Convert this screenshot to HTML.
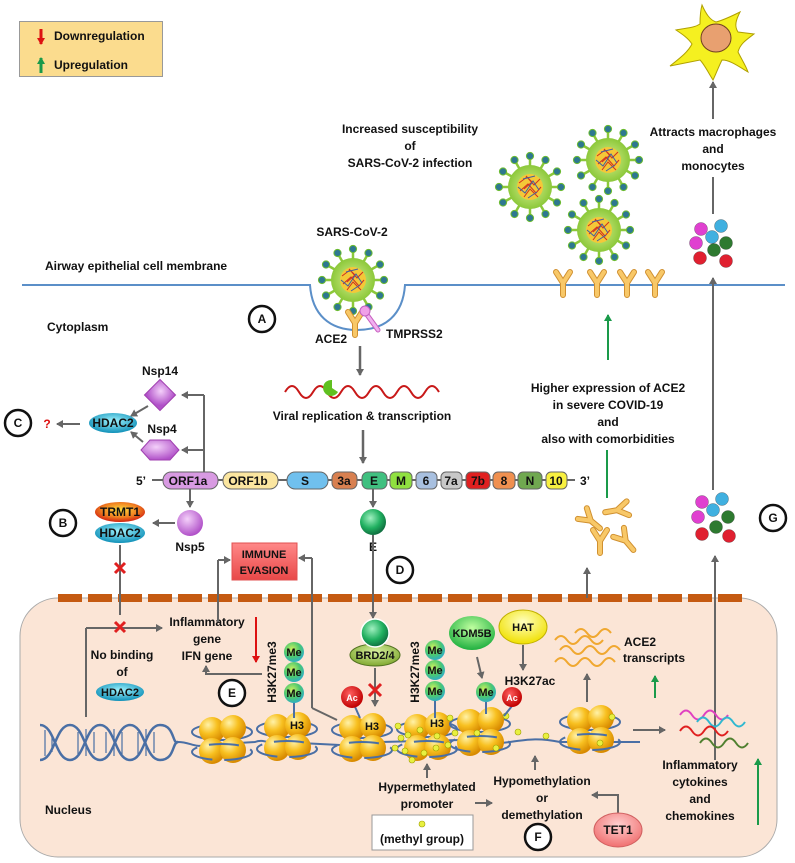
<!DOCTYPE html>
<html><head><meta charset="utf-8">
<style>
html,body{margin:0;padding:0;background:#fff;}
svg{display:block;}
text{font-family:"Liberation Sans",sans-serif;font-weight:bold;font-size:12px;fill:#111;}
.c{text-anchor:middle;}
</style></head><body>
<svg width="795" height="863" viewBox="0 0 795 863" xmlns="http://www.w3.org/2000/svg">
<defs>
<marker id="ag" markerWidth="8" markerHeight="8" refX="6" refY="4" orient="auto" markerUnits="userSpaceOnUse"><path d="M0,0 L7,4 L0,8 z" fill="#666"/></marker>
<marker id="agr" markerWidth="8" markerHeight="8" refX="6" refY="4" orient="auto" markerUnits="userSpaceOnUse"><path d="M0,0 L7,4 L0,8 z" fill="#1a9a4a"/></marker>
<marker id="ar" markerWidth="8" markerHeight="8" refX="6" refY="4" orient="auto" markerUnits="userSpaceOnUse"><path d="M0,0 L7,4 L0,8 z" fill="#d11"/></marker>
<radialGradient id="gold" cx="35%" cy="30%" r="70%"><stop offset="0" stop-color="#fff2a8"/><stop offset="0.5" stop-color="#f8c020"/><stop offset="1" stop-color="#d88a00"/></radialGradient>
<radialGradient id="me" cx="40%" cy="35%" r="65%"><stop offset="0" stop-color="#c8f060"/><stop offset="0.6" stop-color="#4cc870"/><stop offset="1" stop-color="#30b0c0"/></radialGradient>
<radialGradient id="ac" cx="40%" cy="35%" r="65%"><stop offset="0" stop-color="#ff6060"/><stop offset="1" stop-color="#c00000"/></radialGradient>
<radialGradient id="grn" cx="40%" cy="35%" r="65%"><stop offset="0" stop-color="#a0f0c0"/><stop offset="0.6" stop-color="#20b060"/><stop offset="1" stop-color="#107040"/></radialGradient>
<radialGradient id="pur" cx="40%" cy="35%" r="65%"><stop offset="0" stop-color="#f4d0fa"/><stop offset="1" stop-color="#b050c8"/></radialGradient>
<radialGradient id="hd" cx="50%" cy="40%" r="60%"><stop offset="0" stop-color="#a0f4ff"/><stop offset="1" stop-color="#1090b8"/></radialGradient>
<radialGradient id="tr" cx="50%" cy="40%" r="60%"><stop offset="0" stop-color="#ffe040"/><stop offset="0.6" stop-color="#f08020"/><stop offset="1" stop-color="#d02010"/></radialGradient>
<radialGradient id="kd" cx="50%" cy="35%" r="65%"><stop offset="0" stop-color="#c0ffa0"/><stop offset="1" stop-color="#20b040"/></radialGradient>
<radialGradient id="hat" cx="50%" cy="35%" r="65%"><stop offset="0" stop-color="#ffffc0"/><stop offset="1" stop-color="#f0e000"/></radialGradient>
<radialGradient id="brd" cx="50%" cy="35%" r="65%"><stop offset="0" stop-color="#d8f0a0"/><stop offset="1" stop-color="#80a830"/></radialGradient>
<radialGradient id="tet" cx="50%" cy="35%" r="65%"><stop offset="0" stop-color="#ffd0d0"/><stop offset="1" stop-color="#f07070"/></radialGradient>
<radialGradient id="vb" cx="50%" cy="50%" r="50%"><stop offset="0" stop-color="#d8f090"/><stop offset="1" stop-color="#8cc83a"/></radialGradient>
<linearGradient id="imm" x1="0" y1="0" x2="0" y2="1"><stop offset="0" stop-color="#f88"/><stop offset="1" stop-color="#e84848"/></linearGradient>
<g id="virus">
  <g stroke="#8cc83a" stroke-width="2.5">
    <line x1="0" y1="0" x2="0" y2="-30"/><line x1="0" y1="0" x2="15" y2="-26"/><line x1="0" y1="0" x2="26" y2="-15"/><line x1="0" y1="0" x2="30" y2="0"/><line x1="0" y1="0" x2="26" y2="15"/><line x1="0" y1="0" x2="15" y2="26"/><line x1="0" y1="0" x2="0" y2="30"/><line x1="0" y1="0" x2="-15" y2="26"/><line x1="0" y1="0" x2="-26" y2="15"/><line x1="0" y1="0" x2="-30" y2="0"/><line x1="0" y1="0" x2="-26" y2="-15"/><line x1="0" y1="0" x2="-15" y2="-26"/>
  </g>
  <g fill="#2e7890" stroke="#6cbc30" stroke-width="1">
    <circle cx="0" cy="-31" r="3.6"/><circle cx="15.5" cy="-27" r="3.6"/><circle cx="27" cy="-15.5" r="3.6"/><circle cx="31" cy="0" r="3.6"/><circle cx="27" cy="15.5" r="3.6"/><circle cx="15.5" cy="27" r="3.6"/><circle cx="0" cy="31" r="3.6"/><circle cx="-15.5" cy="27" r="3.6"/><circle cx="-27" cy="15.5" r="3.6"/><circle cx="-31" cy="0" r="3.6"/><circle cx="-27" cy="-15.5" r="3.6"/><circle cx="-15.5" cy="-27" r="3.6"/>
  </g>
  <circle r="22" fill="url(#vb)"/>
  <circle r="13" fill="#f4c838"/>
  <path d="M-11,-4 L-3,-10 L4,-2 L10,-8 M-10,4 L-2,-3 L6,6 L11,0 M-6,10 L0,2 L8,10 M-4,-11 L2,-5 L-6,2" stroke="#d03020" stroke-width="1" fill="none"/>
  <path d="M-12,0 L-5,6 L3,-6 L9,3 M-7,-8 L5,-11 M-2,11 L7,5" stroke="#4060a0" stroke-width="1" fill="none"/>
</g>
<g id="yr">
  <path d="M0,13 L0,1 M0,1 L-7,-10 M0,1 L7,-10" stroke="#d09030" stroke-width="6" stroke-linecap="round" fill="none"/>
  <path d="M0,13 L0,1 M0,1 L-7,-10 M0,1 L7,-10" stroke="#f8c868" stroke-width="4" stroke-linecap="round" fill="none"/>
</g>
<g id="nuc">
  <ellipse cx="0" cy="-8" rx="30" ry="8" fill="none" stroke="#4a6fa5" stroke-width="2"/>
  <circle cx="-10" cy="-10" r="13" fill="url(#gold)"/><circle cx="11" cy="-12" r="13" fill="url(#gold)"/>
  <circle cx="-10" cy="11" r="13" fill="url(#gold)"/><circle cx="11" cy="10" r="13" fill="url(#gold)"/>
  <ellipse cx="0" cy="12" rx="30" ry="8" fill="none" stroke="#4a6fa5" stroke-width="2" stroke-dasharray="30 12"/>
</g>
</defs>

<!-- legend -->
<rect x="19.5" y="21.5" width="143" height="55" fill="#fbdc8e" stroke="#999"/>
<line x1="41" y1="29" x2="41" y2="44" stroke="#d11" stroke-width="3" marker-end="url(#ar)"/>
<line x1="41" y1="73" x2="41" y2="58" stroke="#1a9a4a" stroke-width="3" marker-end="url(#agr)"/>
<text x="54" y="40">Downregulation</text>
<text x="54" y="69">Upregulation</text>

<!-- top texts -->
<text class="c" x="410" y="133">Increased susceptibility</text>
<text class="c" x="410" y="150">of</text>
<text class="c" x="410" y="167">SARS-CoV-2 infection</text>
<text class="c" x="713" y="136">Attracts macrophages</text>
<text class="c" x="713" y="153">and</text>
<text class="c" x="713" y="170">monocytes</text>
<text class="c" x="352" y="236">SARS-CoV-2</text>
<text x="45" y="270">Airway epithelial cell membrane</text>
<text x="47" y="331">Cytoplasm</text>

<!-- macrophage -->
<path d="M702,5 C706,14 710,20 716,22 C724,20 732,16 740,12 C736,20 734,26 738,32 L754,34 C746,40 740,44 738,52 C742,60 746,66 748,72 C738,66 730,60 722,60 C718,68 716,74 713,80 C708,72 704,64 700,60 C690,62 680,64 670,66 C680,58 688,52 692,44 C688,38 682,34 676,30 C686,28 694,28 700,24 C700,18 700,12 702,5 Z" fill="#f5f020" stroke="#b0a000" stroke-width="1"/>
<ellipse cx="716" cy="38" rx="15" ry="14" fill="#e8a070" stroke="#704020"/>
<line x1="713" y1="119" x2="713" y2="82" stroke="#666" stroke-width="2" marker-end="url(#ag)"/>
<line x1="713" y1="214" x2="713" y2="177" stroke="#666" stroke-width="2"/>

<!-- cytokine cluster top -->
<g stroke="#333" stroke-width="0.3">
<circle cx="701" cy="229" r="6.5" fill="#e040d0"/><circle cx="721" cy="226" r="6.5" fill="#40b0e0"/><circle cx="712" cy="237" r="6.5" fill="#40b0e0"/><circle cx="696" cy="243" r="6.5" fill="#e040d0"/><circle cx="726" cy="243" r="6.5" fill="#2e7a30"/><circle cx="714" cy="250" r="6.5" fill="#2e7a30"/><circle cx="700" cy="258" r="6.5" fill="#e02030"/><circle cx="726" cy="261" r="6.5" fill="#e02030"/>
</g>

<!-- viruses -->
<use href="#virus" x="530" y="187"/>
<use href="#virus" x="608" y="160"/>
<use href="#virus" x="599" y="230"/>
<use href="#virus" x="353" y="280"/>

<!-- membrane -->
<path d="M22,285 L310,285 C312,315 330,330 357,330 C385,330 403,315 405,285 L785,285" fill="none" stroke="#5b8fc8" stroke-width="2"/>
<use href="#yr" x="563" y="282"/><use href="#yr" x="597" y="282"/><use href="#yr" x="627" y="282"/><use href="#yr" x="655" y="282"/>
<use href="#yr" x="355" y="322"/>
<path d="M365,312 L378,330" stroke="#c860c0" stroke-width="5" stroke-linecap="round"/>
<path d="M365,312 L378,330" stroke="#f0b0f0" stroke-width="3" stroke-linecap="round"/>
<circle cx="365" cy="311" r="5" fill="#f0a0e8" stroke="#c060c0"/>
<text x="315" y="343">ACE2</text>
<text x="386" y="338">TMPRSS2</text>
<circle cx="262" cy="319" r="13" fill="#fff" stroke="#111" stroke-width="2.5"/><text class="c" x="262" y="323">A</text>

<!-- right arrows -->
<line x1="713" y1="490" x2="713" y2="278" stroke="#666" stroke-width="2" marker-end="url(#ag)"/>
<line x1="608" y1="360" x2="608" y2="315" stroke="#1a9a4a" stroke-width="2" marker-end="url(#agr)"/>
<text class="c" x="608" y="392">Higher expression of ACE2</text>
<text class="c" x="608" y="409">in severe COVID-19</text>
<text class="c" x="608" y="426">and</text>
<text class="c" x="608" y="443">also with comorbidities</text>
<line x1="607" y1="450" x2="607" y2="498" stroke="#1a9a4a" stroke-width="2"/>

<!-- viral replication -->
<line x1="360" y1="346" x2="360" y2="375" stroke="#666" stroke-width="2.5" marker-end="url(#ag)"/>
<path d="M285,392 q7,-12 14,0 t14,0 t14,0 t14,0 t14,0 t14,0 t14,0 t14,0 t14,0 t14,0 t14,0" fill="none" stroke="#c81818" stroke-width="2"/>
<path d="M332,380 a8,8 0 1,0 6,12 l-6,-4 z" fill="#60c020"/>
<text class="c" x="362" y="420">Viral replication &amp; transcription</text>
<line x1="363" y1="430" x2="363" y2="463" stroke="#666" stroke-width="2.5" marker-end="url(#ag)"/>

<!-- Nsp14/Nsp4/HDAC2 -->
<text class="c" x="160" y="375">Nsp14</text>
<rect x="149" y="384" width="22" height="22" transform="rotate(45 160 395)" fill="url(#pur)" stroke="#a040b0"/>
<polygon points="141,450 150,440 170,440 179,450 170,460 150,460" fill="url(#pur)" stroke="#a040b0"/>
<text class="c" x="162" y="433">Nsp4</text>
<line x1="204" y1="474" x2="204" y2="395" stroke="#666" stroke-width="2"/>
<line x1="204" y1="395" x2="182" y2="395" stroke="#666" stroke-width="2" marker-end="url(#ag)"/>
<line x1="204" y1="450" x2="182" y2="450" stroke="#666" stroke-width="2" marker-end="url(#ag)"/>
<line x1="148" y1="406" x2="131" y2="416" stroke="#666" stroke-width="2" marker-end="url(#ag)"/>
<line x1="143" y1="442" x2="131" y2="432" stroke="#666" stroke-width="2" marker-end="url(#ag)"/>
<ellipse cx="113" cy="423" rx="24" ry="10" fill="url(#hd)"/><text class="c" x="113" y="427">HDAC2</text>
<line x1="80" y1="424" x2="57" y2="424" stroke="#666" stroke-width="2" marker-end="url(#ag)"/>
<text class="c" x="47" y="428" style="fill:#d11">?</text>
<circle cx="18" cy="423" r="13" fill="#fff" stroke="#111" stroke-width="2.5"/><text class="c" x="18" y="427">C</text>

<!-- genome -->
<line x1="152" y1="480" x2="575" y2="480" stroke="#333" stroke-width="1.5"/>
<text x="136" y="485">5’</text><text x="580" y="485">3’</text>
<g stroke="#666" stroke-width="1">
<rect x="163" y="472" width="55" height="17" rx="8" fill="#d89ae2"/>
<rect x="223" y="472" width="55" height="17" rx="8" fill="#fbe6a0"/>
<rect x="287" y="472" width="41" height="17" rx="8" fill="#70c0ee"/>
<rect x="332" y="472" width="25" height="17" rx="6" fill="#d88050"/>
<rect x="362" y="472" width="25" height="17" rx="6" fill="#40c080"/>
<rect x="390" y="472" width="22" height="17" rx="5" fill="#90e040"/>
<rect x="416" y="472" width="21" height="17" rx="5" fill="#a8c0e0"/>
<rect x="441" y="472" width="21" height="17" rx="5" fill="#c8c8c8"/>
<rect x="466" y="472" width="24" height="17" rx="5" fill="#e02020"/>
<rect x="493" y="472" width="22" height="17" rx="5" fill="#f09050"/>
<rect x="518" y="472" width="24" height="17" rx="5" fill="#70a850"/>
<rect x="546" y="472" width="21" height="17" rx="5" fill="#f8f040"/>
</g>
<text class="c" x="188" y="485">ORF1a</text><text class="c" x="248" y="485">ORF1b</text><text class="c" x="305" y="485">S</text><text class="c" x="344" y="485">3a</text><text class="c" x="374" y="485">E</text><text class="c" x="401" y="485">M</text><text class="c" x="426" y="485">6</text><text class="c" x="451" y="485">7a</text><text class="c" x="478" y="485">7b</text><text class="c" x="504" y="485">8</text><text class="c" x="530" y="485">N</text><text class="c" x="556" y="485">10</text>

<!-- Nsp5 / B -->
<line x1="190" y1="489" x2="190" y2="507" stroke="#666" stroke-width="2" marker-end="url(#ag)"/>
<circle cx="190" cy="523" r="13" fill="url(#pur)"/>
<text class="c" x="190" y="551">Nsp5</text>
<line x1="175" y1="523" x2="153" y2="523" stroke="#666" stroke-width="2" marker-end="url(#ag)"/>
<ellipse cx="120" cy="512" rx="25" ry="10" fill="url(#tr)"/><text class="c" x="120" y="516">TRMT1</text>
<ellipse cx="120" cy="533" rx="25" ry="10" fill="url(#hd)"/><text class="c" x="120" y="537">HDAC2</text>
<circle cx="63" cy="523" r="13" fill="#fff" stroke="#111" stroke-width="2.5"/><text class="c" x="63" y="527">B</text>

<!-- E protein -->
<line x1="373" y1="489" x2="373" y2="507" stroke="#666" stroke-width="2" marker-end="url(#ag)"/>
<circle cx="373" cy="522" r="13" fill="url(#grn)"/>
<text class="c" x="373" y="551">E</text>
<circle cx="400" cy="570" r="13" fill="#fff" stroke="#111" stroke-width="2.5"/><text class="c" x="400" y="574">D</text>

<!-- immune evasion -->
<rect x="232" y="543" width="65" height="37" fill="url(#imm)" stroke="#e05050"/>
<text class="c" x="264" y="558" style="font-size:11px">IMMUNE</text>
<text class="c" x="264" y="574" style="font-size:11px">EVASION</text>

<!-- nucleus -->
<rect x="20" y="598" width="757" height="259" rx="38" fill="#fbe5d6" stroke="#aaa"/>
<g fill="#c55a11">
<rect x="58" y="594" width="24" height="8"/><rect x="88" y="594" width="24" height="8"/><rect x="118" y="594" width="24" height="8"/><rect x="148" y="594" width="24" height="8"/><rect x="178" y="594" width="24" height="8"/><rect x="208" y="594" width="24" height="8"/><rect x="238" y="594" width="24" height="8"/><rect x="268" y="594" width="24" height="8"/><rect x="298" y="594" width="24" height="8"/><rect x="328" y="594" width="24" height="8"/><rect x="358" y="594" width="24" height="8"/><rect x="388" y="594" width="24" height="8"/><rect x="418" y="594" width="24" height="8"/><rect x="448" y="594" width="24" height="8"/><rect x="478" y="594" width="24" height="8"/><rect x="508" y="594" width="24" height="8"/><rect x="538" y="594" width="24" height="8"/><rect x="568" y="594" width="24" height="8"/><rect x="598" y="594" width="24" height="8"/><rect x="628" y="594" width="24" height="8"/><rect x="658" y="594" width="24" height="8"/><rect x="688" y="594" width="24" height="8"/><rect x="718" y="594" width="24" height="8"/>
</g>

<!-- B path into nucleus -->
<line x1="120" y1="545" x2="120" y2="615" stroke="#666" stroke-width="2"/>
<path d="M115,563 l10,10 M125,563 l-10,10" stroke="#e02020" stroke-width="3"/>
<line x1="86" y1="717" x2="86" y2="628" stroke="#666" stroke-width="2"/>
<line x1="86" y1="628" x2="162" y2="628" stroke="#666" stroke-width="2" marker-end="url(#ag)"/>
<path d="M115,622 l10,10 M125,622 l-10,10" stroke="#e02020" stroke-width="3"/>
<text class="c" x="122" y="659">No binding</text>
<text class="c" x="122" y="676">of</text>
<ellipse cx="120" cy="692" rx="24" ry="9" fill="url(#hd)"/><text class="c" x="120" y="696" style="font-size:11px">HDAC2</text>

<!-- inflammatory gene -->
<text class="c" x="207" y="626">Inflammatory</text>
<text class="c" x="207" y="643">gene</text>
<text class="c" x="207" y="660">IFN gene</text>
<line x1="256" y1="617" x2="256" y2="662" stroke="#d11" stroke-width="2" marker-end="url(#ar)"/>
<line x1="218" y1="622" x2="218" y2="560" stroke="#666" stroke-width="2"/>
<line x1="218" y1="560" x2="230" y2="560" stroke="#666" stroke-width="2" marker-end="url(#ag)"/>
<line x1="312" y1="708" x2="312" y2="558" stroke="#666" stroke-width="2"/>
<line x1="312" y1="558" x2="299" y2="558" stroke="#666" stroke-width="2" marker-end="url(#ag)"/>
<line x1="312" y1="708" x2="337" y2="720" stroke="#666" stroke-width="2"/>
<polyline points="262,674 206,674 206,666" fill="none" stroke="#666" stroke-width="2" marker-end="url(#ag)"/>
<circle cx="232" cy="693" r="13" fill="#fff" stroke="#111" stroke-width="2.5"/><text class="c" x="232" y="697">E</text>

<!-- DNA -->
<path d="M40,725 C55,725 55,760 70,760 S85,725 100,725 S115,760 130,760 S145,725 160,725 S172,745 178,742" fill="none" stroke="#4a6fa5" stroke-width="2.5"/>
<path d="M40,760 C55,760 55,725 70,725 S85,760 100,760 S115,725 130,725 S145,760 160,760 S172,742 178,742" fill="none" stroke="#4a6fa5" stroke-width="2.5"/>
<g stroke="#4a6fa5" stroke-width="1.2">
<line x1="45" y1="730" x2="45" y2="756"/><line x1="52" y1="735" x2="52" y2="752"/><line x1="78" y1="732" x2="78" y2="754"/><line x1="86" y1="729" x2="86" y2="756"/><line x1="94" y1="732" x2="94" y2="753"/><line x1="106" y1="732" x2="106" y2="753"/><line x1="114" y1="729" x2="114" y2="756"/><line x1="122" y1="732" x2="122" y2="754"/><line x1="138" y1="732" x2="138" y2="754"/><line x1="146" y1="729" x2="146" y2="756"/><line x1="154" y1="732" x2="154" y2="753"/>
</g>
<path d="M178,742 C190,742 195,748 205,745 L255,742 C265,738 270,746 280,742 L340,745 C350,742 360,746 380,742 L460,740 C480,742 490,745 510,742 S540,738 560,742 L640,742" fill="none" stroke="#4a6fa5" stroke-width="2"/>

<!-- nucleosomes -->
<use href="#nuc" x="222" y="740"/>
<use href="#nuc" x="287" y="737"/>
<use href="#nuc" x="362" y="738"/>
<use href="#nuc" x="427" y="737"/>
<use href="#nuc" x="480" y="732"/>
<use href="#nuc" x="590" y="730"/>
<text class="c" x="297" y="729" style="font-size:11px">H3</text>
<text class="c" x="372" y="730" style="font-size:11px">H3</text>
<text class="c" x="437" y="727" style="font-size:11px">H3</text>

<!-- methyl dots -->
<g fill="#e8f040" stroke="#a0a000" stroke-width="0.6">
<circle cx="398" cy="726" r="3"/><circle cx="401" cy="738" r="3"/><circle cx="405" cy="751" r="3"/><circle cx="412" cy="760" r="3"/><circle cx="424" cy="753" r="3"/><circle cx="436" cy="748" r="3"/><circle cx="448" cy="745" r="3"/><circle cx="455" cy="733" r="3"/><circle cx="450" cy="718" r="3"/><circle cx="420" cy="730" r="3"/><circle cx="408" cy="735" r="3"/><circle cx="437" cy="736" r="3"/><circle cx="395" cy="748" r="3"/>
<circle cx="477" cy="733" r="3"/><circle cx="506" cy="716" r="3"/><circle cx="496" cy="748" r="3"/><circle cx="518" cy="732" r="3"/><circle cx="546" cy="736" r="3"/><circle cx="612" cy="717" r="3"/><circle cx="600" cy="743" r="3"/>
</g>

<!-- Me stacks -->
<line x1="294" y1="700" x2="294" y2="718" stroke="#4a6fa5" stroke-width="2"/>
<circle cx="294" cy="652" r="10" fill="url(#me)"/><circle cx="294" cy="672" r="10" fill="url(#me)"/><circle cx="294" cy="693" r="10" fill="url(#me)"/>
<text class="c" x="294" y="656" style="font-size:11px">Me</text><text class="c" x="294" y="676" style="font-size:11px">Me</text><text class="c" x="294" y="697" style="font-size:11px">Me</text>
<text class="c" transform="translate(276 672) rotate(-90)">H3K27me3</text>
<line x1="435" y1="700" x2="435" y2="718" stroke="#4a6fa5" stroke-width="2"/>
<circle cx="435" cy="650" r="10" fill="url(#me)"/><circle cx="435" cy="670" r="10" fill="url(#me)"/><circle cx="435" cy="691" r="10" fill="url(#me)"/>
<text class="c" x="435" y="654" style="font-size:11px">Me</text><text class="c" x="435" y="674" style="font-size:11px">Me</text><text class="c" x="435" y="695" style="font-size:11px">Me</text>
<text class="c" transform="translate(419 672) rotate(-90)">H3K27me3</text>

<!-- BRD2/4 -->
<line x1="373" y1="535" x2="373" y2="618" stroke="#666" stroke-width="2" marker-end="url(#ag)"/>
<ellipse cx="375" cy="655" rx="25" ry="11" fill="url(#brd)" stroke="#507020"/>
<circle cx="375" cy="633" r="14" fill="url(#grn)" stroke="#fff" stroke-width="1.5"/>
<text class="c" x="375" y="659" style="font-size:11px">BRD2/4</text>
<line x1="375" y1="668" x2="375" y2="706" stroke="#666" stroke-width="2" marker-end="url(#ag)"/>
<path d="M369,684 l12,12 M381,684 l-12,12" stroke="#e02020" stroke-width="3"/>
<line x1="352" y1="700" x2="360" y2="718" stroke="#4a6fa5" stroke-width="2"/>
<circle cx="352" cy="697" r="11" fill="url(#ac)"/><text class="c" x="352" y="701" style="font-size:9px;fill:#fff">Ac</text>

<!-- KDM5B / HAT -->
<ellipse cx="472" cy="633" rx="23" ry="17" fill="url(#kd)"/><text class="c" x="472" y="637" style="font-size:11px">KDM5B</text>
<ellipse cx="523" cy="627" rx="24" ry="17" fill="url(#hat)" stroke="#c0b000"/><text class="c" x="523" y="631" style="font-size:11px">HAT</text>
<line x1="477" y1="657" x2="482" y2="678" stroke="#666" stroke-width="2" marker-end="url(#ag)"/>
<line x1="523" y1="645" x2="523" y2="670" stroke="#666" stroke-width="2" marker-end="url(#ag)"/>
<text class="c" x="530" y="685">H3K27ac</text>
<line x1="486" y1="702" x2="486" y2="714" stroke="#4a6fa5" stroke-width="2"/>
<line x1="512" y1="706" x2="504" y2="716" stroke="#4a6fa5" stroke-width="2"/>
<circle cx="486" cy="692" r="10" fill="url(#me)"/><text class="c" x="486" y="696" style="font-size:11px">Me</text>
<circle cx="512" cy="697" r="10" fill="url(#ac)"/><text class="c" x="512" y="701" style="font-size:9px;fill:#fff">Ac</text>

<!-- ACE2 transcripts -->
<g fill="none" stroke="#f0a830" stroke-width="2">
<path d="M555,640 q6,-8 12,0 t12,0 t12,0 t12,0"/>
<path d="M575,633 q6,-8 12,0 t12,0 t12,0"/>
<path d="M560,650 q6,-8 12,0 t12,0 t12,0 t12,0 t12,0"/>
<path d="M555,662 q6,-8 12,0 t12,0 t12,0 t12,0 t12,0"/>
</g>
<text x="624" y="646">ACE2</text>
<text x="623" y="662">transcripts</text>
<line x1="655" y1="698" x2="655" y2="676" stroke="#1a9a4a" stroke-width="2" marker-end="url(#agr)"/>
<line x1="587" y1="702" x2="587" y2="674" stroke="#666" stroke-width="2" marker-end="url(#ag)"/>
<line x1="587" y1="598" x2="587" y2="568" stroke="#666" stroke-width="2" marker-end="url(#ag)"/>

<!-- ACE2 scattered -->
<use href="#yr" x="590" y="520" transform="rotate(-50 590 520)"/>
<use href="#yr" x="618" y="510" transform="rotate(80 618 510)"/>
<use href="#yr" x="600" y="540" transform="rotate(0 600 540)"/>
<use href="#yr" x="625" y="540" transform="rotate(-40 625 540)"/>

<!-- cytokine cluster lower -->
<g stroke="#333" stroke-width="0.3">
<circle cx="702" cy="502" r="6.5" fill="#e040d0"/><circle cx="722" cy="499" r="6.5" fill="#40b0e0"/><circle cx="713" cy="510" r="6.5" fill="#40b0e0"/><circle cx="698" cy="517" r="6.5" fill="#e040d0"/><circle cx="728" cy="517" r="6.5" fill="#2e7a30"/><circle cx="716" cy="527" r="6.5" fill="#2e7a30"/><circle cx="702" cy="534" r="6.5" fill="#e02030"/><circle cx="729" cy="536" r="6.5" fill="#e02030"/>
</g>
<circle cx="773" cy="518" r="13" fill="#fff" stroke="#111" stroke-width="2.5"/><text class="c" x="773" y="522">G</text>
<line x1="715" y1="760" x2="715" y2="556" stroke="#666" stroke-width="2" marker-end="url(#ag)"/>

<!-- inflammatory cytokines -->
<line x1="633" y1="730" x2="665" y2="730" stroke="#666" stroke-width="2" marker-end="url(#ag)"/>
<g fill="none" stroke-width="2">
<path d="M680,715 q6,-9 12,0 t12,0 t12,0 t12,0" stroke="#e040c0"/>
<path d="M697,722 q6,-9 12,0 t12,0 t12,0 t12,0" stroke="#30b8d0"/>
<path d="M680,731 q6,-9 12,0 t12,0 t12,0 t12,0" stroke="#e02020"/>
<path d="M700,743 q6,-9 12,0 t12,0 t12,0 t12,0" stroke="#508030"/>
</g>
<text class="c" x="700" y="769">Inflammatory</text>
<text class="c" x="700" y="786">cytokines</text>
<text class="c" x="700" y="803">and</text>
<text class="c" x="700" y="820">chemokines</text>
<line x1="758" y1="825" x2="758" y2="759" stroke="#1a9a4a" stroke-width="2" marker-end="url(#agr)"/>

<!-- bottom -->
<line x1="427" y1="778" x2="427" y2="764" stroke="#666" stroke-width="2" marker-end="url(#ag)"/>
<text class="c" x="427" y="791">Hypermethylated</text>
<text class="c" x="427" y="808">promoter</text>
<rect x="372" y="815" width="101" height="35" fill="#fff" stroke="#999"/>
<circle cx="422" cy="824" r="3" fill="#e8f040" stroke="#a0a000" stroke-width="0.6"/>
<text class="c" x="422" y="843">(methyl group)</text>
<line x1="475" y1="803" x2="492" y2="803" stroke="#666" stroke-width="2" marker-end="url(#ag)"/>
<line x1="535" y1="770" x2="535" y2="756" stroke="#666" stroke-width="2" marker-end="url(#ag)"/>
<text class="c" x="542" y="785">Hypomethylation</text>
<text class="c" x="542" y="802">or</text>
<text class="c" x="542" y="819">demethylation</text>
<circle cx="538" cy="837" r="13" fill="#fff" stroke="#111" stroke-width="2.5"/><text class="c" x="538" y="841">F</text>
<polyline points="618,813 618,795 592,795" fill="none" stroke="#666" stroke-width="2" marker-end="url(#ag)"/>
<ellipse cx="618" cy="830" rx="24" ry="17" fill="url(#tet)" stroke="#d06060"/><text class="c" x="618" y="834">TET1</text>
<text x="45" y="814">Nucleus</text>
</svg>
</body></html>
